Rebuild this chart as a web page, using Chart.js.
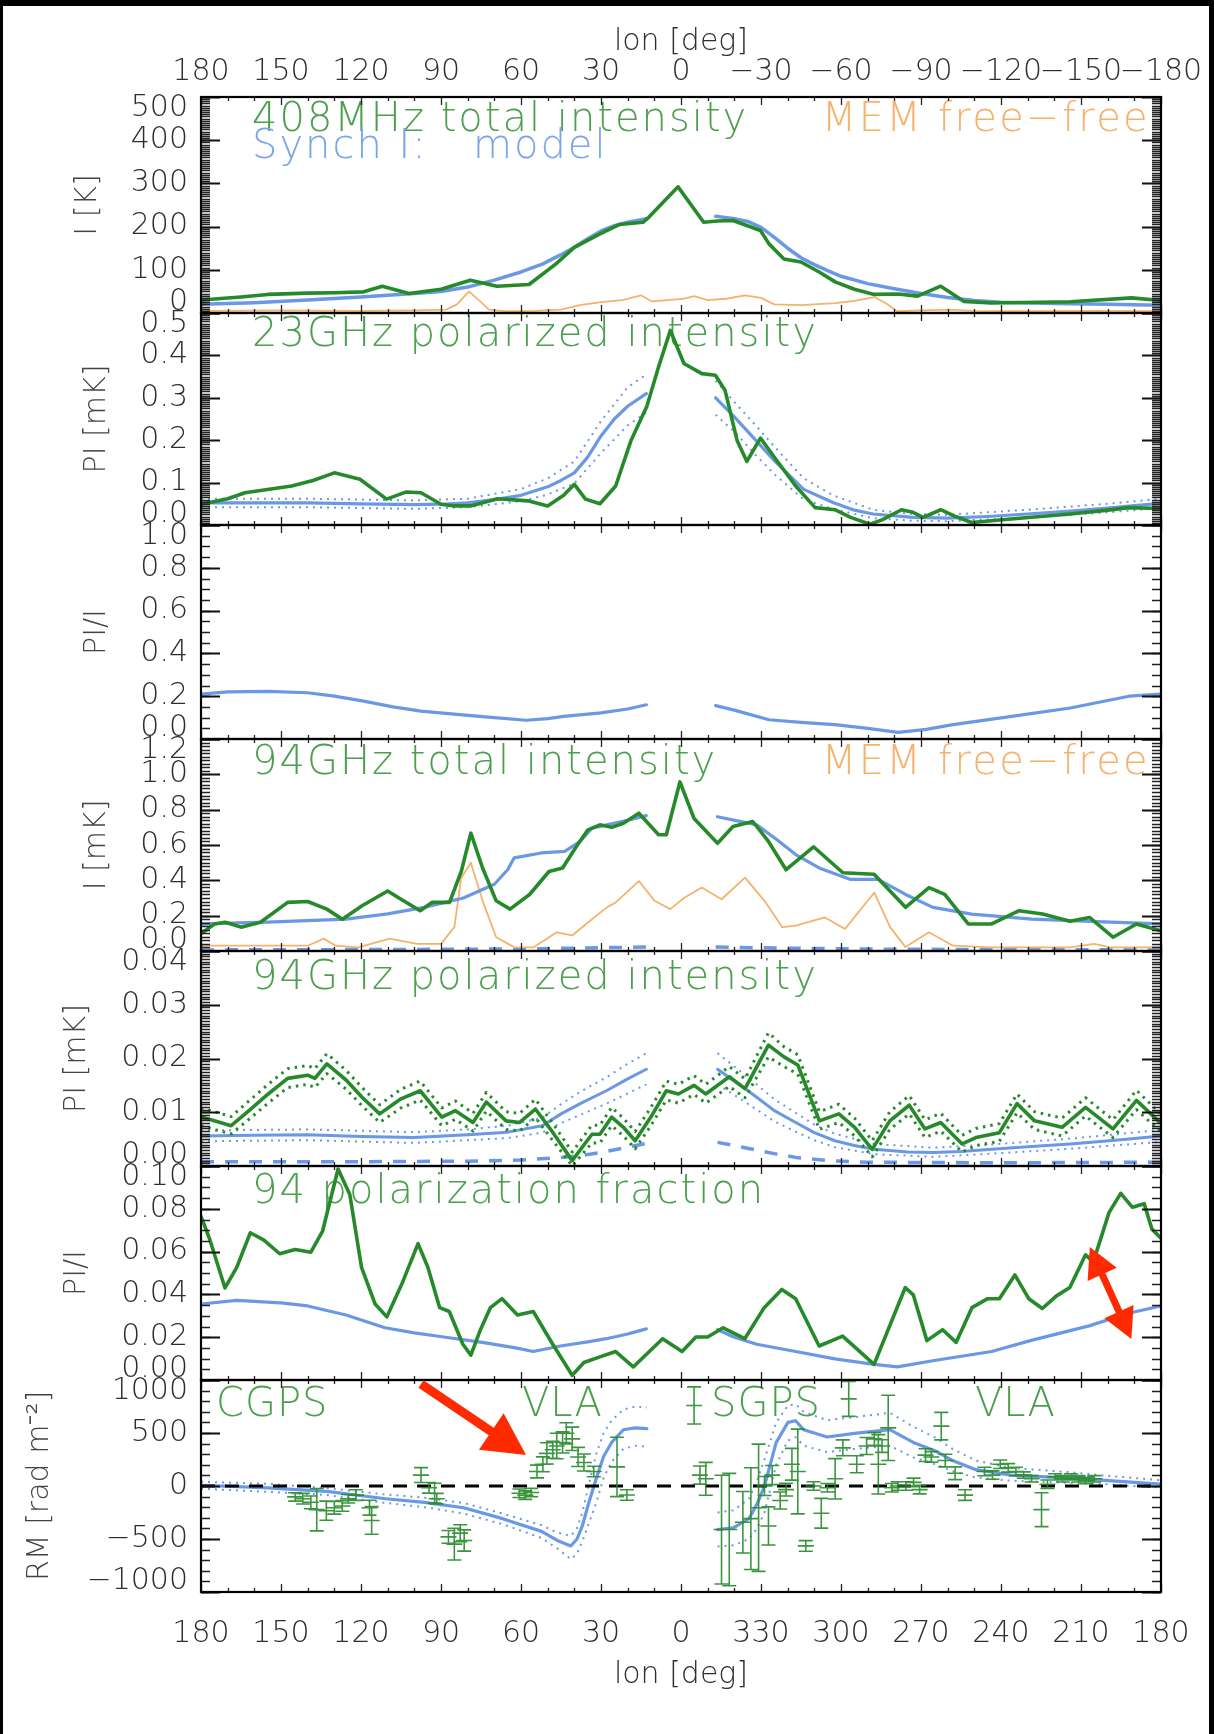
<!DOCTYPE html>
<html><head><meta charset="utf-8">
<script src="https://cdn.jsdelivr.net/npm/chart.js@4.4.1/dist/chart.umd.min.js"></script>
<style>
html,body{margin:0;padding:0;background:#fff;}
body{width:1214px;height:1734px;position:relative;overflow:hidden;}
canvas{position:absolute;left:0;}
.bar{position:absolute;background:#000;}
</style></head><body>
<script>
// ---------------- axis ticks / labels ----------------
const LON_TICKS = [180,150,120,90,60,30,0,-30,-60,-90,-120,-150,-180];
const TOP_LABELS = ['180','150','120','90','60','30','0','\u221230','\u221260','\u221290','\u2212120','\u2212150','\u2212180'];
const BOTTOM_LABELS = ['180','150','120','90','60','30','0','330','300','270','240','210','180'];

const P1_TICKS = [0,100,200,300,400,500];       const P1_LABELS = ['0','100','200','300','400','500'];
const P2_TICKS = [0,0.1,0.2,0.3,0.4,0.5];       const P2_LABELS = ['0.0','0.1','0.2','0.3','0.4','0.5'];
const P3_TICKS = [0,0.2,0.4,0.6,0.8,1.0];       const P3_LABELS = ['0.0','0.2','0.4','0.6','0.8','1.0'];
const P4_TICKS = [0,0.2,0.4,0.6,0.8,1.0,1.2];   const P4_LABELS = ['0.0','0.2','0.4','0.6','0.8','1.0','1.2'];
const P5_TICKS = [0,0.01,0.02,0.03,0.04];       const P5_LABELS = ['0.00','0.01','0.02','0.03','0.04'];
const P6_TICKS = [0,0.02,0.04,0.06,0.08,0.10];  const P6_LABELS = ['0.00','0.02','0.04','0.06','0.08','0.10'];
const P7_TICKS = [-1000,-500,0,500,1000];       const P7_LABELS = ['\u22121000','\u2212500','0','500','1000'];

// ---------------- panel 1: 408 MHz total intensity ----------------
const P1_GREEN_LON = [180,165,155,140,130,119,112,102,90,79,69,57,47,40,30.4,23,14.3,12,1.1,-8.5,-13.7,-19.5,-29.8,-33,-38.6,-45,-51.8,-57.8,-65,-72.5,-81.4,-88.7,-97.4,-106,-116.4,-146,-169,-180];
const P1_GREEN_I   = [30,37,43,46,47,49,62,45,55,76,62,66,113,152,183,205,210,222,292,210,213,214,191,160,125,118,95,72,55,43,44,39,62,27,23,26,35,29];
const P1_MODEL_LON = [180,160,140,120,100,90,80,70,60,52,45,40,35,30,25,20,13,0,-13,-20,-25,-30,-35,-40,-45,-50,-55,-60,-70,-80,-90,-100,-110,-120,-140,-160,-180];
const P1_MODEL_I   = [20,24,30,37,45,50,60,76,95,113,135,152,172,190,202,210,218,null,224,218,212,198,175,150,128,112,98,85,68,56,45,36,29,25,22,20,18];
const P1_FF_LON = [180,150,120,100,88,84,79.5,75,72,65,55,45,38,30,22,15,11,5,-1,-5,-10,-17,-24,-30,-35,-45,-58,-65,-72.5,-77,-81,-90,-100,-110,-130,-160,-180];
const P1_FF_I   = [5,6,5,6,8,20,50,25,8,4,5,8,18,25,30,41,27,30,33,39,30,33,41,35,20,18,23,28,37,22,4,6,8,5,4,5,4];

// ---------------- panel 2: 23 GHz polarized intensity ----------------
const P2_GREEN_LON = [180,170,163.5,146,138,130,120.4,110.4,103,97.5,90,85,78.9,68.8,57.4,50,44,40,35.8,30.4,24.5,18.7,12.8,8.4,4,-1.1,-7.8,-12.9,-16.5,-21,-24.7,-29.8,-35.7,-43,-50.3,-57.7,-63.6,-70.9,-75.4,-82.7,-87,-90.8,-97.4,-103,-109,-123.8,-145.9,-160,-168,-179.6];
const P2_GREEN_PI  = [0.049,0.062,0.076,0.092,0.105,0.123,0.108,0.061,0.078,0.076,0.049,0.045,0.045,0.062,0.057,0.045,0.07,0.096,0.061,0.05,0.092,0.20,0.28,0.373,0.459,0.381,0.357,0.353,0.318,0.20,0.150,0.205,0.154,0.092,0.041,0.036,0.018,0.002,0.012,0.036,0.03,0.018,0.036,0.02,0.006,0.014,0.026,0.035,0.041,0.039];
const P2_MODEL_LON = [180,160,140,120,100,90,80,70,60,50,45,40,35,30,25,20,13,0,-13,-20,-28,-35,-46,-57,-65,-72,-87,-100,-115,-130,-145,-160,-170,-180];
const P2_MODEL_PI  = [0.052,0.052,0.052,0.05,0.048,0.049,0.052,0.06,0.07,0.09,0.105,0.123,0.16,0.21,0.25,0.28,0.31,null,0.30,0.255,0.20,0.152,0.084,0.053,0.035,0.026,0.018,0.016,0.02,0.026,0.032,0.04,0.046,0.051];
const P2_BAND_LON = [180,140,100,80,60,50,40,30,20,13,0,-13,-20,-28,-35,-46,-57,-72,-87,-100,-130,-160,-180];
const P2_BAND_HI  = [0.062,0.062,0.058,0.062,0.085,0.11,0.15,0.245,0.325,0.355,null,0.34,0.29,0.235,0.185,0.11,0.07,0.036,0.026,0.024,0.036,0.05,0.062];
const P2_BAND_LO  = [0.042,0.042,0.038,0.042,0.056,0.072,0.098,0.17,0.235,0.265,null,0.26,0.22,0.165,0.12,0.06,0.038,0.016,0.01,0.009,0.017,0.03,0.04];

// ---------------- panel 3: 23 GHz PI/I model ----------------
const P3_MODEL_LON = [180,170,155,140,130,119,108,97.5,83,70,58,50,44,30,20,13,0,-13,-20,-33,-45,-57.7,-70,-81.4,-92,-102,-124,-146,-160,-168,-180];
const P3_MODEL_PF  = [0.21,0.22,0.223,0.216,0.2,0.177,0.15,0.13,0.114,0.1,0.0875,0.095,0.106,0.122,0.14,0.16,null,0.156,0.135,0.09,0.078,0.067,0.05,0.031,0.045,0.067,0.106,0.145,0.18,0.2,0.21];

// ---------------- panel 4: 94 GHz total intensity ----------------
const P4_GREEN_LON = [180,175,170.9,165,157.7,147.5,140,132.8,127,119.6,110,105,97.8,93.4,86.8,82.4,78.8,74.4,69.3,64.1,56.8,49.5,44.4,39.3,34.9,30.4,26,21.6,15.8,8.4,5.5,0.4,-4.9,-13.7,-19.5,-26.9,-32.8,-39.4,-49.7,-60.7,-72.4,-84.2,-93,-98.9,-107.7,-116.5,-126.8,-135.6,-145.9,-153.2,-162,-170.8,-179.6];
const P4_GREEN_I   = [0.097,0.153,0.163,0.135,0.163,0.275,0.28,0.237,0.18,0.256,0.34,0.293,0.228,0.275,0.275,0.45,0.667,0.47,0.284,0.237,0.32,0.45,0.47,0.59,0.686,0.714,0.70,0.723,0.78,0.658,0.658,0.957,0.75,0.61,0.705,0.733,0.62,0.46,0.59,0.443,0.434,0.247,0.359,0.32,0.153,0.153,0.228,0.209,0.168,0.19,0.078,0.153,0.116];
const P4_MODEL_LON = [180,155,125.6,110,96.3,81.6,70,65,62.6,52.4,43.6,37.8,33.4,27.8,20,13,0,-13.7,-28.4,-36,-43,-51.8,-63.6,-73.9,-84.2,-94.5,-109,-131.6,-161,-180];
const P4_MODEL_I   = [0.153,0.163,0.18,0.21,0.247,0.30,0.378,0.46,0.527,0.555,0.564,0.62,0.695,0.714,0.74,0.766,null,0.76,0.714,0.63,0.546,0.47,0.405,0.405,0.32,0.247,0.209,0.18,0.163,0.153];
const P4_FF_LON = [180,150,140,134,129.5,121,109.2,99,90,85,82.4,78.8,74.4,69.3,62.6,55.4,46.6,40.8,33.4,27.8,24.5,15.8,9.9,4,-1.1,-7.8,-15.2,-24,-31.3,-38,-43,-54,-61.5,-72.5,-78.4,-84.2,-93,-102,-116.5,-146,-155,-161,-180];
const P4_FF_I   = [0.03,0.03,0.03,0.07,0.03,0.02,0.07,0.04,0.04,0.135,0.415,0.50,0.284,0.078,0.022,0.02,0.106,0.088,0.18,0.247,0.275,0.396,0.284,0.237,0.30,0.359,0.293,0.415,0.284,0.135,0.144,0.19,0.125,0.331,0.135,0.022,0.106,0.03,0.02,0.02,0.04,0.02,0.02];
const P4_DASH_LON = [180,120,80,60,40,25,13,0,-13,-30,-50,-80,-120,-180];
const P4_DASH_I   = [0.006,0.008,0.01,0.012,0.016,0.02,0.022,null,0.022,0.018,0.014,0.01,0.008,0.006];

// ---------------- panel 5: 94 GHz polarized intensity ----------------
const P5_GREEN_LON = [180,175,168.7,162,154.8,147.5,140,137.3,132.8,125.6,119.6,113,105,97.8,89.7,84.6,78,73,65.6,60.5,54.6,48,40.8,33.4,30.4,26,21.6,17.2,11.3,5.5,1,-4.9,-9.3,-18.1,-24,-32.8,-38.6,-43.8,-51.9,-59.2,-65.1,-71.7,-78.3,-85.6,-91.5,-97.4,-105.4,-110.6,-119.4,-126,-132.6,-142.9,-151.7,-162,-170.8,-179.6];
const P5_GREEN_PI  = [0.0091,0.0084,0.0075,0.0103,0.0134,0.0163,0.0169,0.0163,0.019,0.016,0.0128,0.0097,0.0125,0.014,0.0091,0.0103,0.0081,0.0119,0.0084,0.0081,0.0106,0.0062,0.001,0.0059,0.0059,0.0091,0.0072,0.0047,0.0091,0.014,0.0134,0.015,0.0134,0.0166,0.0144,0.0225,0.0203,0.0188,0.0084,0.0097,0.0072,0.0031,0.0084,0.0113,0.0069,0.0081,0.0041,0.0053,0.0062,0.0116,0.0084,0.0072,0.0109,0.0069,0.0122,0.0081];
const P5_GREEN_HI  = [0.0108,0.0101,0.0092,0.0121,0.0152,0.0181,0.0187,0.0181,0.0209,0.0178,0.0146,0.0114,0.0143,0.0158,0.0108,0.0121,0.0098,0.0137,0.0101,0.0098,0.0124,0.0079,0.0026,0.0076,0.0076,0.0109,0.0089,0.0064,0.0109,0.0158,0.0152,0.0168,0.0152,0.0185,0.0162,0.0248,0.0222,0.0207,0.0101,0.0115,0.0089,0.0047,0.0101,0.0131,0.0086,0.0098,0.0057,0.007,0.0079,0.0134,0.0101,0.0089,0.0127,0.0086,0.0141,0.0098];
const P5_GREEN_LO  = [0.0075,0.0068,0.006,0.0087,0.0117,0.0146,0.0152,0.0146,0.0172,0.0143,0.0112,0.0081,0.0108,0.0123,0.0075,0.0087,0.0065,0.0102,0.0068,0.0065,0.009,0.0047,0.0,0.0043,0.0043,0.0075,0.0056,0.0032,0.0075,0.0123,0.0117,0.0133,0.0117,0.0148,0.0127,0.0203,0.0185,0.0171,0.0068,0.0081,0.0056,0.0017,0.0068,0.0097,0.0053,0.0065,0.0026,0.0038,0.0046,0.0099,0.0068,0.0056,0.0093,0.0053,0.0105,0.0065];
const P5_MODEL_LON = [180,160,140,120,100,80,65,52,45,37.8,28,20,13,0,-13.7,-20,-28.4,-35,-43,-50,-57.7,-65,-72.4,-85,-94.5,-105,-116.5,-130,-146,-165,-180];
const P5_MODEL_PI  = [0.0056,0.0057,0.0058,0.0055,0.0053,0.0058,0.0063,0.0075,0.0097,0.0116,0.014,0.0162,0.018,null,0.018,0.0158,0.0128,0.0103,0.0081,0.0062,0.0047,0.0038,0.0031,0.0026,0.0025,0.0027,0.0031,0.0036,0.0041,0.0049,0.0056];
const P5_BAND_LON = [180,140,100,80,65,52,45,37.8,28,20,13,0,-13.7,-20,-28.4,-35,-43,-50,-57.7,-72.4,-94.5,-116.5,-146,-180];
const P5_BAND_HI  = [0.0066,0.0068,0.0063,0.0068,0.0075,0.009,0.0115,0.0138,0.0165,0.019,0.021,null,0.021,0.0185,0.0152,0.0124,0.0099,0.0077,0.006,0.0041,0.0034,0.004,0.0051,0.0067];
const P5_BAND_LO  = [0.0046,0.0048,0.0043,0.0048,0.0052,0.0062,0.008,0.0095,0.0116,0.0135,0.0152,null,0.0152,0.0132,0.0105,0.0083,0.0064,0.0048,0.0035,0.0022,0.0017,0.0023,0.0032,0.0045];
const P5_DASH_LON = [180,120,80,60,45,38,30,22,13,0,-13.7,-20,-28,-35,-43,-55,-70,-120,-180];
const P5_DASH_PI  = [0.0008,0.0008,0.0009,0.0011,0.0016,0.0019,0.0025,0.0033,0.0042,null,0.0044,0.0038,0.003,0.0023,0.0016,0.001,0.0007,0.0006,0.0007];

// ---------------- panel 6: 94 GHz polarization fraction ----------------
const P6_GREEN_LON = [180,176.8,171,166.6,161.5,156.4,150.5,144.7,138.8,134.4,128.6,124.2,119.8,114.7,110.3,104.4,98.6,94.9,90.5,86.9,81.8,78.8,75.2,71.5,67.1,61.3,55.4,48.1,40.8,36.4,30.4,24.5,17.9,6.9,-0.4,-5.6,-10,-15.8,-23.9,-31.2,-37.8,-43,-51.8,-60.6,-72.4,-84.1,-87.1,-92.2,-98.1,-103.2,-109.1,-115,-119.4,-125.2,-130.4,-135.5,-140.7,-145.8,-151.7,-154.6,-160.5,-164.9,-169.3,-173.7,-176.6,-180];
const P6_GREEN_PF  = [0.0765,0.066,0.043,0.0526,0.0688,0.0654,0.059,0.061,0.0597,0.0696,0.0986,0.0867,0.0526,0.0355,0.0295,0.0457,0.0637,0.0526,0.0338,0.032,0.0167,0.0116,0.0235,0.0338,0.038,0.0304,0.032,0.0167,0.0022,0.0082,0.0108,0.0133,0.0061,0.0193,0.0133,0.0201,0.0201,0.0244,0.0193,0.0338,0.0423,0.038,0.0159,0.0205,0.0073,0.0432,0.0398,0.0184,0.0235,0.0176,0.0338,0.038,0.038,0.0491,0.038,0.0334,0.0392,0.0432,0.0585,0.0551,0.0782,0.0872,0.0807,0.0824,0.0705,0.0662];
const P6_MODEL_LON = [180,166.6,150,140,125.6,111,100,89,74.5,62,55.4,45.2,35,28,20,13,0,-13.7,-20,-28.4,-43,-57.7,-72.4,-81.2,-94.4,-116.5,-131,-153,-167.8,-180];
const P6_MODEL_PF  = [0.0355,0.0372,0.036,0.0346,0.0304,0.0244,0.022,0.0201,0.0176,0.015,0.0133,0.0159,0.0178,0.0193,0.0215,0.0239,null,0.0235,0.02,0.0167,0.0133,0.0099,0.0073,0.0061,0.009,0.0133,0.0184,0.0253,0.0312,0.0346];

// ---------------- panel 7: rotation measure ----------------
const P7_MODEL_LON = [180,155,132.8,110.8,96.2,81.5,66.9,52.3,46.4,41.3,39,37,34.5,31.8,29,26,21.6,17.2,12.8,0,-13.7,-19.6,-25.5,-28.5,-31.3,-35.7,-40.1,-43,-46,-54.8,-65.1,-78.3,-87.1,-95.9,-101.8,-110.6,-123.8,-145.9,-160.5,-179.6];
const P7_MODEL_RM  = [7,-17,-51,-120,-154,-205,-308,-428,-514,-565,-500,-377,-150,68,280,411,531,548,541,null,-411,-394,-308,-170,0,411,600,616,531,462,497,531,411,325,240,154,103,75,51,17];
const P7_MODEL_HI  = [40,20,-20,-80,-110,-160,-260,-370,-440,-470,-400,-250,20,300,500,620,720,750,740,null,-250,-230,-120,50,250,600,760,770,700,620,650,690,560,450,350,240,170,130,95,55];
const P7_MODEL_LO  = [-25,-55,-85,-160,-200,-260,-360,-490,-590,-690,-640,-520,-350,-160,80,230,350,380,370,null,-570,-560,-500,-400,-250,200,430,460,380,320,350,380,270,200,140,80,50,30,15,-15];
const RM_LON = [144.7,141.8,138.8,136.6,133,130,127,124.8,121.9,116.8,116, 97.5,94.5,92.4,91.6,87.2,85,82.8,81.3, 60.6,58.4,56.2, 54,51.8,50.3,48.1,46.6,44.4,43,40.8,38.6,36.4,32.7, 24,20.3, -4.9,-7.1,-9.3,-15.2,-18.1,-23.2,-26.2,-29.1,-31.3,-32.8,-34.2,-37.2,-39.4,-41.6,-43.8,-46.8,-49.7,-52.6,-54.9,-57.8,-60.7,-62.9,-65.9,-69.6,-72.5,-74,-75.4,-77.7,-79.1,-81.3,-84.3,-87.2,-89.5,-91.7,-93.9,-97.6,-99.1,-102.8,-106.5,-113.8,-116.8,-119.7,-122.7,-125.6,-128.5,-131.5,-135.2,-137.4,-140.3,-143.2,-146.2,-149.1,-152,-155];
const RM_VAL = [-103,-120,-154,-223,-233,-205,-188,-120,-86,-205,-325, 103,-17,-68,-120,-480,-548,-445,-514, -68,-86,-62, 137,205,308,342,377,411,497,445,274,222,137, 180,-85, 760,103,68,-411,-411,-342,-308,-205,0,-377,103,-137,-34,205,137,-565,0,-257,-17,68,360,822,205,377,445,205,377,548,-17,0,0,34,-34,291,274,565,240,120,-86,137,103,205,171,137,103,68,-223,17,86,68,86,68,51,68];
const RM_ERR = [40,50,60,200,90,60,50,40,50,70,130, 70,50,94,50,60,150,80,100, 40,40,40, 60,70,100,80,120,100,100,110,90,80,50, 280,50, 175,85,155,513,530,290,480,600,90,180,90,80,60,150,400,50,40,140,40,190,75,165,80,80,60,280,60,308,40,40,40,40,40,60,50,130,60,60,50,40,40,40,40,40,30,30,160,40,30,30,30,30,30,30];
const ZERO_LON = [180,-180];
const ZERO_RM  = [0,0];

// ---------------- annotations (data coordinates) ----------------
const ARROW_RM = {from:[97.5, 962], to:[58.1, 292]};
const ARROW_PF = {from:[-153.3, 0.0621], to:[-168.9, 0.0192]};

// ---------------- layout & style ----------------
const PAGE_W = 1214, PAGE_H = 1734;
const EDGES = [97, 313, 525, 739, 951, 1166, 1380, 1592];
const PLOT_LEFT = 201, PLOT_RIGHT = 1161, OVER = 45;
const FAM = '"DejaVu Sans", "Liberation Sans", sans-serif';
const TW = 200;
const GREEN = '#268a2a', GREEN_TXT = '#4d9f50';
const BLUE = '#6a98e4', BLUE_TXT = '#7aa5ec';
const ORANGE = '#f5b26c', RED = '#ff2a00', AXIS_TXT = '#2e2e2e';

function pts(xs, ys) { return xs.map((x, i) => ({x: x, y: ys[i]})); }
function line(xs, ys, color, width, dash) {
  return {type: 'line', data: pts(xs, ys), borderColor: color, borderWidth: width,
    borderDash: dash || [], pointRadius: 0, pointHoverRadius: 0, tension: 0, fill: false,
    spanGaps: false, borderJoinStyle: 'round', borderCapStyle: dash ? 'butt' : 'round'};
}

function framePlugin(majors, minorStep, min, max) {
  return {id: 'frame', afterDraw(chart) {
    const {ctx, chartArea: a, scales: {x, y}} = chart;
    ctx.save();
    ctx.strokeStyle = '#222'; ctx.lineWidth = 1.3;
    ctx.beginPath();
    for (let k = 0; k <= 36; k++) {
      const v = -180 + 10 * k;
      const px = Math.round(x.getPixelForValue(v)) + 0.5;
      const L = (v % 30 === 0) ? 8 : 4;
      ctx.moveTo(px, a.top); ctx.lineTo(px, a.top + L);
      ctx.moveTo(px, a.bottom); ctx.lineTo(px, a.bottom - L);
    }
    const n = Math.round((max - min) / minorStep);
    for (let k = 0; k <= n; k++) {
      const py = Math.round(y.getPixelForValue(min + k * minorStep)) + 0.5;
      ctx.moveTo(a.left, py); ctx.lineTo(a.left + 9, py);
      ctx.moveTo(a.right, py); ctx.lineTo(a.right - 9, py);
    }
    ctx.stroke();
    ctx.lineWidth = 1.8; ctx.strokeStyle = '#111';
    ctx.beginPath();
    for (const v of majors) {
      const py = Math.round(y.getPixelForValue(v)) + 0.5;
      ctx.moveTo(a.left, py); ctx.lineTo(a.left + 19, py);
      ctx.moveTo(a.right, py); ctx.lineTo(a.right - 19, py);
    }
    ctx.stroke();
    ctx.lineWidth = 2.2; ctx.strokeStyle = '#000';
    ctx.strokeRect(a.left, a.top, a.right - a.left, a.bottom - a.top);
    ctx.restore();
  }};
}

function textPlugin(texts) {
  return {id: 'texts', beforeDatasetsDraw(chart) {
    const {ctx, chartArea: a} = chart;
    ctx.save();
    for (const t of texts) {
      ctx.font = TW + ' ' + (t.size || 40) + 'px ' + FAM;
      ctx.letterSpacing = (t.ls === undefined ? 2 : t.ls) + 'px';
      ctx.fillStyle = t.color;
      ctx.textAlign = t.align || 'left';
      ctx.textBaseline = 'middle';
      const x = t.align === 'right' ? a.right - t.dx : a.left + t.dx;
      ctx.fillText(t.text, x, a.top + t.dy);
    }
    ctx.restore();
  }};
}

function drawArrow(ctx, x1, y1, x2, y2, lw, hl, hw, startHead, endHead) {
  const dx = x2 - x1, dy = y2 - y1, len = Math.hypot(dx, dy);
  const ux = dx / len, uy = dy / len, nx = -uy, ny = ux;
  const sx = startHead ? x1 + ux * hl * 0.8 : x1, sy = startHead ? y1 + uy * hl * 0.8 : y1;
  const ex = endHead ? x2 - ux * hl * 0.8 : x2, ey = endHead ? y2 - uy * hl * 0.8 : y2;
  ctx.lineWidth = lw; ctx.lineCap = 'butt';
  ctx.beginPath(); ctx.moveTo(sx, sy); ctx.lineTo(ex, ey); ctx.stroke();
  function head(tx, ty, dir) {
    const bx = tx - dir * ux * hl, by = ty - dir * uy * hl;
    ctx.beginPath(); ctx.moveTo(tx, ty);
    ctx.lineTo(bx + nx * hw, by + ny * hw); ctx.lineTo(bx - nx * hw, by - ny * hw);
    ctx.closePath(); ctx.fill();
  }
  if (endHead) head(x2, y2, 1);
  if (startHead) head(x1, y1, -1);
}
function arrowPlugin(arrow, lw, hl, hw, both) {
  return {id: 'arrow', afterDraw(chart) {
    const {ctx, scales: {x, y}} = chart;
    ctx.save(); ctx.strokeStyle = RED; ctx.fillStyle = RED;
    drawArrow(ctx, x.getPixelForValue(arrow.from[0]), y.getPixelForValue(arrow.from[1]),
      x.getPixelForValue(arrow.to[0]), y.getPixelForValue(arrow.to[1]), lw, hl, hw, both, true);
    ctx.restore();
  }};
}

const errPlugin = {id: 'errbars', afterDatasetsDraw(chart) {
  const {ctx, chartArea: a, scales: {x, y}} = chart;
  ctx.save();
  ctx.beginPath(); ctx.rect(a.left, a.top, a.right - a.left, a.bottom - a.top); ctx.clip();
  ctx.strokeStyle = GREEN; ctx.lineWidth = 1.6; ctx.globalAlpha = 0.9;
  ctx.beginPath();
  for (let i = 0; i < RM_LON.length; i++) {
    const px = x.getPixelForValue(RM_LON[i]);
    const py = y.getPixelForValue(RM_VAL[i]);
    const t = y.getPixelForValue(RM_VAL[i] + RM_ERR[i]);
    const b = y.getPixelForValue(RM_VAL[i] - RM_ERR[i]);
    ctx.moveTo(px, t); ctx.lineTo(px, b);
    ctx.moveTo(px - 7, t); ctx.lineTo(px + 7, t);
    ctx.moveTo(px - 7, b); ctx.lineTo(px + 7, b);
    ctx.moveTo(px - 8, py); ctx.lineTo(px + 8, py);
  }
  ctx.stroke();
  ctx.restore();
}};

function makePanel(i, p) {
  const top = EDGES[i], bottom = EDGES[i + 1];
  const cTop = i === 0 ? 0 : top - OVER;
  const cBot = i === 6 ? PAGE_H : bottom + OVER;
  const h = cBot - cTop;
  const canvas = document.createElement('canvas');
  canvas.width = PAGE_W; canvas.height = h;
  canvas.style.top = cTop + 'px';
  canvas.style.width = PAGE_W + 'px'; canvas.style.height = h + 'px';
  document.body.appendChild(canvas);
  const font = {family: FAM, size: 30, weight: TW};
  const inset = 11 / (bottom - top) * (p.max - p.min);
  const labelPos = v => v === p.min ? p.min + inset : (v === p.max ? p.max - inset : v);
  const xShown = i === 0 || i === 6;
  const plugins = [framePlugin(p.ticks, p.minor, p.min, p.max), textPlugin(p.texts || [])].concat(p.extra || []);
  new Chart(canvas, {
    type: 'line',
    data: {datasets: p.datasets},
    plugins: plugins,
    options: {
      responsive: false, animation: false, devicePixelRatio: 1, events: [],
      layout: {padding: {left: 0, right: PAGE_W - PLOT_RIGHT,
        top: i === 0 ? 0 : top - cTop, bottom: i === 6 ? 0 : cBot - bottom}},
      plugins: {legend: {display: false}, tooltip: {enabled: false}},
      scales: {
        x: {type: 'linear', min: -180, max: 180, reverse: true, display: xShown,
          position: i === 0 ? 'top' : 'bottom',
          afterBuildTicks: s => { s.ticks = LON_TICKS.map(v => ({value: v})); },
          afterFit: s => {
            if (xShown) { s.height = i === 0 ? top : PAGE_H - bottom; }
            else { s.height = 0; s.width = 0; }
            s.paddingLeft = 0; s.paddingRight = 0;
          },
          grid: {display: false, drawTicks: false}, border: {display: false},
          ticks: {autoSkip: false, maxRotation: 0, minRotation: 0, padding: i === 0 ? 7 : 24,
            font: font, color: AXIS_TXT,
            callback: (v, idx) => (i === 0 ? TOP_LABELS : BOTTOM_LABELS)[idx]},
          title: {display: true, text: 'lon [deg]', font: font, color: AXIS_TXT,
            padding: i === 0 ? {top: 24, bottom: 0} : {top: 0, bottom: 41}}
        },
        y: {type: 'linear', min: p.min, max: p.max, position: 'left',
          afterBuildTicks: s => { s.ticks = p.ticks.map(v => ({value: labelPos(v)})); },
          afterFit: s => { s.width = PLOT_LEFT; s.paddingTop = 0; s.paddingBottom = 0; },
          grid: {display: false, drawTicks: false}, border: {display: false},
          ticks: {autoSkip: false, padding: 13, font: font, color: AXIS_TXT,
            callback: (v, idx) => p.labels[idx]},
          title: {display: true, text: p.title, font: font, color: '#444',
            padding: {top: p.titleX - 18, bottom: 0}}
        }
      }
    }
  });
}

const PANELS = [
  {min: 0, max: 500, ticks: P1_TICKS, labels: P1_LABELS, minor: 5, title: 'I [K]', titleX: 88,
   datasets: [line(P1_GREEN_LON, P1_GREEN_I, GREEN, 3.6), line(P1_MODEL_LON, P1_MODEL_I, BLUE, 3.5),
              line(P1_FF_LON, P1_FF_I, ORANGE, 1.8)],
   texts: [{text: '408MHz total intensity', color: GREEN_TXT, dx: 51, dy: 24},
           {text: 'Synch I:', color: BLUE_TXT, dx: 51, dy: 51},
           {text: 'model', color: BLUE_TXT, dx: 272, dy: 51},
           {text: 'MEM free\u2212free', color: ORANGE, dx: 11, dy: 24, align: 'right', ls: 2.3}]},
  {min: 0, max: 0.5, ticks: P2_TICKS, labels: P2_LABELS, minor: 0.005, title: 'PI [mK]', titleX: 97,
   datasets: [line(P2_GREEN_LON, P2_GREEN_PI, GREEN, 3.6), line(P2_MODEL_LON, P2_MODEL_PI, BLUE, 3.2),
              line(P2_BAND_LON, P2_BAND_HI, BLUE, 2, [2, 5]), line(P2_BAND_LON, P2_BAND_LO, BLUE, 2, [2, 5])],
   texts: [{text: '23GHz polarized intensity', color: GREEN_TXT, dx: 51, dy: 23}]},
  {min: 0, max: 1.0, ticks: P3_TICKS, labels: P3_LABELS, minor: 0.05, title: 'PI/I', titleX: 97,
   datasets: [line(P3_MODEL_LON, P3_MODEL_PF, BLUE, 3.2)], texts: []},
  {min: 0, max: 1.2, ticks: P4_TICKS, labels: P4_LABELS, minor: 0.02, title: 'I [mK]', titleX: 97,
   datasets: [line(P4_GREEN_LON, P4_GREEN_I, GREEN, 3.6), line(P4_MODEL_LON, P4_MODEL_I, BLUE, 3.2),
              line(P4_FF_LON, P4_FF_I, ORANGE, 1.8), line(P4_DASH_LON, P4_DASH_I, BLUE, 3.5, [13, 11])],
   texts: [{text: '94GHz total intensity', color: GREEN_TXT, dx: 51, dy: 25},
           {text: 'MEM free\u2212free', color: ORANGE, dx: 11, dy: 25, align: 'right', ls: 2.3}]},
  {min: 0, max: 0.04, ticks: P5_TICKS, labels: P5_LABELS, minor: 0.0005, title: 'PI [mK]', titleX: 77,
   datasets: [line(P5_GREEN_LON, P5_GREEN_PI, GREEN, 3.6),
              line(P5_GREEN_LON, P5_GREEN_HI, GREEN, 3, [2.5, 5]), line(P5_GREEN_LON, P5_GREEN_LO, GREEN, 3, [2.5, 5]),
              line(P5_MODEL_LON, P5_MODEL_PI, BLUE, 3),
              line(P5_BAND_LON, P5_BAND_HI, BLUE, 2, [2, 5]), line(P5_BAND_LON, P5_BAND_LO, BLUE, 2, [2, 5]),
              line(P5_DASH_LON, P5_DASH_PI, BLUE, 3.5, [13, 11])],
   texts: [{text: '94GHz polarized intensity', color: GREEN_TXT, dx: 51, dy: 28}]},
  {min: 0, max: 0.10, ticks: P6_TICKS, labels: P6_LABELS, minor: 0.005, title: 'PI/I', titleX: 77,
   datasets: [line(P6_GREEN_LON, P6_GREEN_PF, GREEN, 3.6), line(P6_MODEL_LON, P6_MODEL_PF, BLUE, 3.2)],
   texts: [{text: '94 polarization fraction', color: GREEN_TXT, dx: 51, dy: 27}],
   extra: [arrowPlugin(ARROW_PF, 7, 30, 16, true)]},
  {min: -1000, max: 1000, ticks: P7_TICKS, labels: P7_LABELS, minor: 100, title: 'RM [rad m\u207B\u00B2]', titleX: 40,
   datasets: [line(ZERO_LON, ZERO_RM, '#000', 3, [14, 10]), line(P7_MODEL_LON, P7_MODEL_RM, BLUE, 3.2),
              line(P7_MODEL_LON, P7_MODEL_HI, BLUE, 2, [2, 5]), line(P7_MODEL_LON, P7_MODEL_LO, BLUE, 2, [2, 5]),
              {type: 'scatter', data: pts(RM_LON, RM_VAL), pointRadius: 0, showLine: false}],
   texts: [{text: 'CGPS', color: GREEN_TXT, dx: 15, dy: 26, ls: 1},
           {text: 'VLA', color: GREEN_TXT, dx: 321, dy: 26, ls: 1},
           {text: 'SGPS', color: GREEN_TXT, dx: 510, dy: 26, ls: 1},
           {text: 'VLA', color: GREEN_TXT, dx: 774, dy: 26, ls: 1}],
   extra: [errPlugin, arrowPlugin(ARROW_RM, 9, 42, 22, false)]}
];

PANELS.forEach((p, i) => makePanel(i, p));

[[0, 0, PAGE_W, 6], [PAGE_W - 5, 0, 5, PAGE_H], [0, 0, 3, PAGE_H]].forEach(r => {
  const d = document.createElement('div'); d.className = 'bar';
  d.style.left = r[0] + 'px'; d.style.top = r[1] + 'px'; d.style.width = r[2] + 'px'; d.style.height = r[3] + 'px';
  document.body.appendChild(d);
});
</script>
</body></html>
